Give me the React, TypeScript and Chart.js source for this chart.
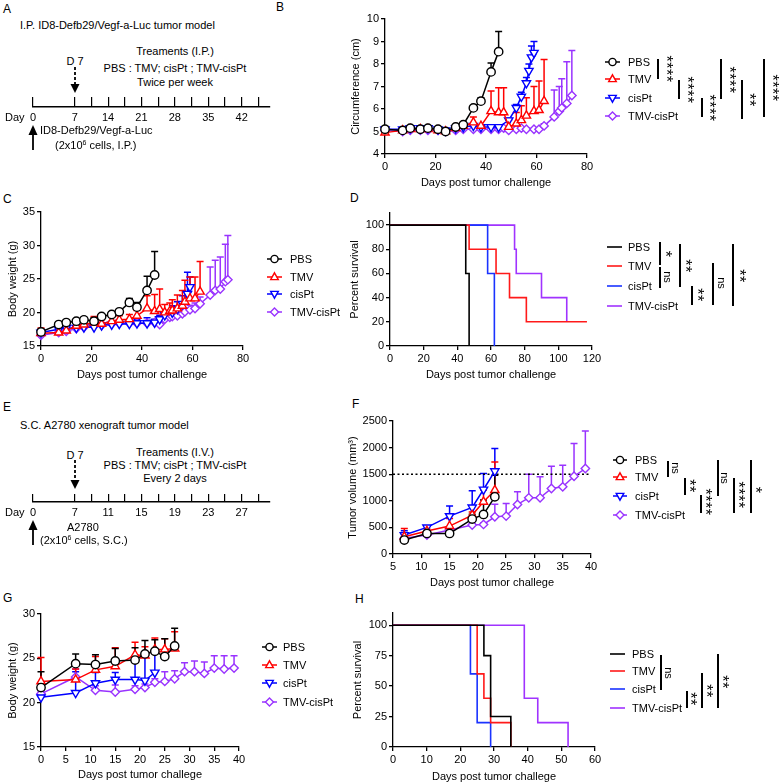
import React, { useEffect, useRef } from 'react';
import { Chart, registerables } from 'chart.js';
Chart.register(...registerables);

const FONT = '"Liberation Sans", Arial, Helvetica, sans-serif';

const GROUPS = ['PBS', 'TMV', 'cisPt', 'TMV-cisPt'];
const COLORS = ['#000000', '#ff0000', '#0000ff', '#9933ff'];
const SURV_COLORS = ['#000000', '#ff1a1a', '#1a33ff', '#a033ff'];
const POINT_STYLES = ['circle', 'triangle', 'triangle', 'rectRot'];
const POINT_ROTATION = [0, 0, 180, 0];

// ---- Timelines (A, E) ----
const TL_TICK_POS = [0, 2.5, 3.5, 4.5, 5.5, 6.5, 7.5, 8.5, 9.5, 10.5, 11.5, 12.5, 13.5];
const TL_MAX = 14.2;
const TL_A_LABELS = ['0', '7', '', '14', '', '21', '', '28', '', '35', '', '42', ''];
const TL_E_LABELS = ['0', '7', '', '11', '', '15', '', '19', '', '23', '', '27', ''];

// ---- B: circumference ----
const B_PBS_DAYS = [0, 7, 10, 14, 17, 21, 24, 28, 31, 35, 38, 42, 45];
const B_PBS_MEAN = [5.1, 5.05, 5.15, 5.1, 5.15, 5.1, 5.0, 5.2, 5.3, 6.05, 6.35, 7.65, 8.55];
const B_PBS_SD = [0.12, 0.05, 0.05, 0.05, 0.05, 0.05, 0.05, 0.05, 0.05, 0.1, 0.15, 0.4, 0.9];
const B_TMV_DAYS = [0, 7, 10, 14, 17, 21, 24, 28, 31, 35, 38, 42, 45, 47, 49, 52, 54, 56, 59, 61, 63];
const B_TMV_MEAN = [4.95, 5.05, 5.1, 5.1, 5.1, 5.05, 5.0, 5.15, 5.25, 5.4, 5.25, 5.9, 5.85, 5.85, 5.2, 5.35, 5.5, 5.7, 5.9, 5.95, 6.35];
const B_TMV_SD = [0.1, 0.05, 0.05, 0.05, 0.05, 0.1, 0.1, 0.05, 0.05, 0.25, 0.05, 0.9, 1.1, 1.1, 0.3, 0.5, 0.65, 0.8, 1.1, 1.3, 1.85];
const B_CIS_DAYS = [0, 7, 10, 14, 17, 21, 24, 28, 31, 35, 38, 42, 45, 49, 52, 54, 56, 57, 58, 59];
const B_CIS_MEAN = [5.1, 5.1, 5.15, 5.15, 5.15, 5.1, 5.05, 5.15, 5.2, 5.25, 5.2, 5.2, 5.2, 5.5, 6.05, 6.55, 7.15, 7.7, 8.3, 8.5];
const B_CIS_SD = [0.1, 0.05, 0.05, 0.05, 0.05, 0.05, 0.05, 0.05, 0.05, 0.05, 0.05, 0.05, 0.05, 0.1, 0.15, 0.2, 0.25, 0.3, 0.5, 0.5];
const B_COMBO_DAYS = [0, 7, 10, 14, 17, 21, 24, 28, 31, 35, 38, 42, 45, 47, 49, 52, 54, 56, 59, 61, 63, 67, 69, 70, 72, 74];
const B_COMBO_MEAN = [5.05, 5.0, 5.05, 5.05, 5.05, 5.05, 5.0, 5.05, 5.1, 5.1, 5.1, 5.1, 5.1, 5.15, 5.05, 5.1, 5.15, 5.1, 5.1, 5.1, 5.25, 5.65, 5.9, 6.05, 6.25, 6.6];
const B_COMBO_SD = [0.05, 0.05, 0.05, 0.05, 0.05, 0.05, 0.05, 0.05, 0.05, 0.05, 0.05, 0.05, 0.05, 0.05, 0.05, 0.05, 0.05, 0.05, 0.05, 0.05, 0.1, 1.2, 1.1, 1.3, 1.85, 2.0];

// ---- C: body weight (ID8) ----
const C_PBS_DAYS = [0, 7, 10, 14, 17, 21, 24, 28, 31, 35, 38, 42, 45];
const C_PBS_MEAN = [17.1, 18.2, 18.5, 18.7, 18.9, 18.7, 19.4, 19.7, 20.1, 21.5, 20.8, 23.3, 25.6];
const C_PBS_SD = [0.4, 0.4, 0.3, 0.3, 0.4, 0.5, 0.3, 0.4, 0.3, 0.6, 0.7, 2.1, 3.5];
const C_TMV_DAYS = [0, 7, 10, 14, 17, 21, 24, 28, 31, 35, 38, 42, 45, 47, 49, 51, 52, 54, 56, 57, 59, 61, 63];
const C_TMV_MEAN = [16.9, 17.0, 17.3, 18.0, 18.2, 18.5, 18.3, 18.7, 18.9, 19.0, 19.5, 20.6, 20.2, 20.5, 20.0, 20.2, 20.3, 20.6, 21.0, 21.6, 22.1, 22.1, 23.1];
const C_TMV_SD = [0.8, 0.5, 0.5, 0.5, 0.6, 0.9, 0.6, 0.7, 0.6, 0.7, 0.8, 1.9, 2.5, 3.0, 1.2, 1.2, 1.6, 2.0, 2.3, 3.2, 3.2, 3.2, 4.5];
const C_CIS_DAYS = [0, 7, 10, 14, 17, 21, 24, 28, 31, 35, 38, 42, 45, 47, 49, 52, 54, 56, 58, 59];
const C_CIS_MEAN = [17.0, 17.5, 17.7, 17.7, 17.8, 17.8, 18.1, 18.2, 18.3, 18.3, 18.4, 18.4, 18.5, 19.0, 19.6, 20.0, 20.5, 21.3, 22.8, 23.8];
const C_CIS_SD = [0.4, 0.3, 0.3, 0.3, 0.3, 0.3, 0.3, 0.3, 0.6, 0.5, 0.5, 0.8, 0.5, 0.6, 0.7, 1.0, 1.1, 1.2, 3.2, 1.5];
const C_COMBO_DAYS = [0, 7, 10, 14, 17, 21, 24, 28, 31, 35, 38, 42, 45, 47, 49, 51, 52, 54, 56, 57, 59, 61, 63, 67, 69, 71, 73, 74];
const C_COMBO_MEAN = [16.6, 17.0, 17.2, 17.6, 17.8, 18.0, 18.1, 18.3, 18.4, 18.4, 18.4, 18.4, 18.5, 18.2, 19.0, 19.3, 19.4, 19.5, 19.8, 20.1, 20.4, 20.6, 21.3, 22.6, 23.3, 23.5, 24.6, 24.9];
const C_COMBO_SD = [0.4, 0.4, 0.4, 0.4, 0.4, 0.4, 0.4, 0.4, 0.4, 0.4, 0.4, 0.4, 0.4, 0.4, 0.5, 0.5, 0.5, 0.5, 0.6, 0.6, 0.7, 0.8, 1.0, 4.2, 4.5, 4.8, 5.6, 6.6];

// ---- D: survival (ID8) ----
const D_PBS_T = [0, 45, 47];
const D_PBS_S = [100, 60, 0];
const D_TMV_T = [0, 47, 63, 71, 81, 117];
const D_TMV_S = [100, 80, 60, 40, 20, 20];
const D_CIS_T = [0, 58, 62];
const D_CIS_S = [100, 60, 0];
const D_COMBO_T = [0, 74, 75, 90, 105];
const D_COMBO_S = [100, 80, 60, 40, 20];

// ---- F: tumor volume (A2780) ----
const F_DAYS = [7, 11, 15, 19, 21, 23];
const F_PBS_MEAN = [262, 387, 387, 656, 744, 1075];
const F_PBS_SD = [30, 40, 30, 90, 270, 406];
const F_TMV_MEAN = [325, 431, 525, 731, 981, 1200];
const F_TMV_SD = [156, 40, 144, 60, 220, 531];
const F_CIS_MEAN = [356, 500, 712, 875, 1212, 1556];
const F_CIS_SD = [80, 25, 188, 312, 300, 425];
const F_COMBO_DAYS = [7, 11, 15, 19, 21, 23, 25, 27, 29, 31, 33, 35, 37, 39];
const F_COMBO_MEAN = [294, 356, 450, 544, 556, 700, 712, 931, 1056, 1056, 1231, 1262, 1462, 1606];
const F_COMBO_SD = [30, 25, 30, 25, 25, 237, 238, 238, 444, 394, 419, 407, 613, 706];
const F_THRESHOLD = 1500;

// ---- G: body weight (A2780) ----
const G_DAYS = [0, 7, 11, 15, 19, 21, 23, 25, 27];
const G_PBS_MEAN = [21.7, 24.4, 24.3, 24.7, 24.8, 25.5, 25.8, 25.2, 26.4];
const G_PBS_SD = [1.8, 1.1, 1.1, 1.4, 1.4, 1.5, 1.3, 2.0, 2.0];
const G_TMV_MEAN = [22.4, 22.6, 23.7, 24.1, 25.4, 25.3, 26.0, 26.0, 26.1];
const G_TMV_SD = [2.7, 1.2, 1.5, 2.1, 1.4, 1.0, 1.3, 1.2, 1.9];
const G_CIS_DAYS = [0, 7, 11, 15, 19, 21, 23];
const G_CIS_MEAN = [20.6, 21.1, 22.2, 22.6, 22.6, 22.5, 23.4];
const G_CIS_SD = [0.4, 2.4, 1.2, 0.8, 2.6, 3.0, 2.5];
const G_COMBO_DAYS = [0, 7, 11, 15, 19, 21, 23, 25, 27, 29, 31, 33, 35, 37, 39];
const G_COMBO_MEAN = [21.0, 22.9, 21.4, 21.2, 21.5, 21.7, 22.3, 22.4, 22.7, 23.5, 23.5, 23.3, 23.9, 23.8, 23.9];
const G_COMBO_SD = [0.3, 0.9, 0.5, 0.8, 0.4, 0.4, 0.4, 1.1, 0.9, 1.0, 1.2, 1.3, 1.4, 1.5, 1.4];

// ---- H: survival (A2780) ----
const H_PBS_T = [0, 27, 29, 35];
const H_PBS_S = [100, 75, 25, 0];
const H_TMV_T = [0, 25, 27, 29, 35];
const H_TMV_S = [100, 60, 40, 20, 0];
const H_CIS_T = [0, 23, 25, 29];
const H_CIS_S = [100, 60, 20, 0];
const H_COMBO_T = [0, 39, 43, 52];
const H_COMBO_S = [100, 40, 20, 0];

// ---------------------------------------------------------------
const Y_W = 50, X_H = 40, PAD_T = 10, PAD_R = 14;
const HALF_LH = 6.6;

const errorBarPlugin = {
  id: 'errbars',
  beforeDatasetsDraw(chart: any) {
    const ctx = chart.ctx;
    const xs = chart.scales.x, ys = chart.scales.y;
    for (let i = chart.data.datasets.length - 1; i >= 0; i--) {
      const ds: any = chart.data.datasets[i];
      const err = ds.errTop;
      if (!err) continue;
      ctx.save();
      ctx.strokeStyle = ds.borderColor;
      ctx.lineWidth = 1.5;
      ds.data.forEach((p: any, j: number) => {
        const e = err[j];
        if (!e) return;
        const px = xs.getPixelForValue(p.x);
        const y0 = ys.getPixelForValue(p.y);
        const y1 = ys.getPixelForValue(p.y + e);
        ctx.beginPath();
        ctx.moveTo(px, y0);
        ctx.lineTo(px, y1);
        ctx.moveTo(px - 3.5, y1);
        ctx.lineTo(px + 3.5, y1);
        ctx.stroke();
      });
      ctx.restore();
    }
  },
};

const thresholdPlugin = {
  id: 'threshold',
  beforeDatasetsDraw(chart: any, _a: any, opts: any) {
    if (opts == null || opts.value == null) return;
    const ctx = chart.ctx;
    const y = chart.scales.y.getPixelForValue(opts.value);
    const { left, right } = chart.chartArea;
    ctx.save();
    ctx.strokeStyle = '#000';
    ctx.lineWidth = 1.5;
    ctx.setLineDash([2, 2.5]);
    ctx.beginPath();
    ctx.moveTo(left, y);
    ctx.lineTo(right, y);
    ctx.stroke();
    ctx.restore();
  },
};

function tickFont(size = 11) {
  return { family: FONT, size };
}

const plainNum = (v: any) => String(v);

function buildScales(o: any) {
  const grid = { display: true, drawOnChartArea: false, drawTicks: true, tickLength: 4, color: '#000', lineWidth: 1.3 };
  const border = { display: true, color: '#000', width: 1.3 };
  return {
    x: {
      type: 'linear', min: o.xMin, max: o.xMax,
      ticks: { stepSize: o.xStep, font: tickFont(), color: '#000', padding: 2, maxRotation: 0, autoSkip: false, callback: plainNum },
      grid, border,
      title: { display: true, text: o.xTitle, color: '#000', font: tickFont(), padding: { top: 0, bottom: X_H - o.xGap - HALF_LH } },
      afterFit: (s: any) => { s.height = X_H; },
    },
    y: {
      type: 'linear', min: o.yMin, max: o.yMax,
      ticks: { stepSize: o.yStep, font: tickFont(), color: '#000', padding: 2, autoSkip: false, callback: plainNum },
      afterBuildTicks: o.yTickMax != null ? (s: any) => { s.ticks = s.ticks.filter((t: any) => t.value <= o.yTickMax); } : undefined,
      grid, border,
      title: { display: true, text: o.yTitle, color: '#000', font: tickFont(), padding: { top: Y_W - o.yGap - HALF_LH, bottom: 0 } },
      afterFit: (s: any) => { s.width = Y_W; },
    },
  };
}

function seriesDataset(days: number[], mean: number[], sd: number[], k: number) {
  return {
    data: days.map((d, i) => ({ x: d, y: mean[i] })),
    errTop: sd,
    borderColor: COLORS[k],
    backgroundColor: '#fff',
    borderWidth: 1.5,
    pointStyle: POINT_STYLES[k],
    pointRotation: POINT_ROTATION[k],
    pointRadius: k === 1 || k === 2 ? 4.8 : 4.2,
    pointBorderWidth: 1.4,
    pointBackgroundColor: '#fff',
    pointBorderColor: COLORS[k],
    clip: false,
    tension: 0,
  };
}

function survDataset(t: number[], s: number[], k: number) {
  return {
    data: t.map((d, i) => ({ x: d, y: s[i] })),
    stepped: true,
    borderColor: SURV_COLORS[k],
    borderWidth: 1.6,
    pointRadius: 0,
    fill: false,
    clip: false,
  };
}

function plotConfig(o: any, datasets: any[], extraPlugins: any[] = [], pluginOpts: any = {}) {
  return {
    type: 'line',
    data: { datasets },
    plugins: [errorBarPlugin, ...extraPlugins],
    options: {
      animation: false,
      responsive: false,
      devicePixelRatio: 1,
      events: [],
      layout: { padding: { left: 0, top: PAD_T, right: PAD_R, bottom: 0 } },
      plugins: { legend: { display: false }, tooltip: { enabled: false }, ...pluginOpts },
      scales: buildScales(o),
    },
  };
}

function timelineConfig(labels: string[]) {
  return {
    type: 'scatter',
    data: { datasets: [] },
    options: {
      animation: false,
      responsive: false,
      devicePixelRatio: 1,
      events: [],
      layout: { padding: { left: 33, right: 5, top: 7, bottom: 0 } },
      plugins: { legend: { display: false }, tooltip: { enabled: false } },
      scales: {
        x: {
          type: 'linear', min: 0, max: TL_MAX,
          afterBuildTicks: (s: any) => { s.ticks = TL_TICK_POS.map((v) => ({ value: v })); },
          afterFit: (s: any) => { s.height = 23; },
          ticks: { autoSkip: false, maxRotation: 0, padding: 4, color: '#000', font: tickFont(11), callback: (_v: any, i: number) => labels[i] },
          grid: { display: true, drawOnChartArea: true, drawTicks: false, color: '#000', lineWidth: 1.2 },
          border: { display: true, color: '#000', width: 1.5 },
        },
        y: { display: false, min: 0, max: 1 },
      },
    },
  };
}

function ChartCanvas({ left, top, width, height, make }: any) {
  const ref = useRef<HTMLCanvasElement | null>(null);
  useEffect(() => {
    const chart = new Chart(ref.current as any, make());
    return () => chart.destroy();
  }, []);
  return <canvas ref={ref} width={width} height={height} style={{ position: 'absolute', left, top, width, height }} />;
}

function PlotCanvas({ box, make }: any) {
  const [L, T, R, B] = box;
  return <ChartCanvas left={L - Y_W} top={T - PAD_T} width={R - L + Y_W + PAD_R} height={B - T + PAD_T + X_H} make={make} />;
}

function Txt({ x, y, children, align = 'left', size = 11, style = {} }: any) {
  const tx = align === 'center' ? '-50%' : align === 'right' ? '-100%' : '0';
  return (
    <div style={{ position: 'absolute', left: x, top: y, transform: `translate(${tx},-50%)`, fontSize: size, lineHeight: 1.15, whiteSpace: 'nowrap', ...style }}>
      {children}
    </div>
  );
}

function MarkerSvg({ k, w, survival }: any) {
  const c = survival ? SURV_COLORS[k] : COLORS[k];
  const cx = w / 2, cy = 6;
  let shape: any = null;
  if (!survival) {
    if (k === 0) shape = <circle cx={cx} cy={cy} r={3.6} fill="#fff" stroke={c} strokeWidth={1.4} />;
    if (k === 1) shape = <polygon points={`${cx},${cy - 4.2} ${cx + 3.8},${cy + 2.6} ${cx - 3.8},${cy + 2.6}`} fill="#fff" stroke={c} strokeWidth={1.4} />;
    if (k === 2) shape = <polygon points={`${cx},${cy + 4.2} ${cx + 3.8},${cy - 2.6} ${cx - 3.8},${cy - 2.6}`} fill="#fff" stroke={c} strokeWidth={1.4} />;
    if (k === 3) shape = <polygon points={`${cx},${cy - 4} ${cx + 4},${cy} ${cx},${cy + 4} ${cx - 4},${cy}`} fill="#fff" stroke={c} strokeWidth={1.4} />;
  }
  return (
    <svg width={w} height={12} style={{ display: 'block' }}>
      <line x1={0} y1={cy} x2={w} y2={cy} stroke={c} strokeWidth={survival ? 1.6 : 1.5} />
      {shape}
    </svg>
  );
}

function Legend({ mx, mw, tx, rows, survival = false }: any) {
  return (
    <>
      {GROUPS.map((g, k) => (
        <React.Fragment key={g}>
          <div style={{ position: 'absolute', left: mx, top: rows[k] - 6 }}>
            <MarkerSvg k={k} w={mw} survival={survival} />
          </div>
          <Txt x={tx} y={rows[k]}>{g}</Txt>
        </React.Fragment>
      ))}
    </>
  );
}

function Sig({ x, y1, y2, label, lx, ly }: any) {
  const stars = label.indexOf('*') >= 0;
  return (
    <>
      <div style={{ position: 'absolute', left: x - 0.75, top: y1, width: 1.6, height: y2 - y1, background: '#000' }} />
      <div
        style={{
          position: 'absolute', left: stars ? lx - 3 : lx, top: ly,
          transform: 'translate(-50%,-50%) rotate(90deg)',
          fontSize: stars ? 16 : 11, letterSpacing: stars ? 0.5 : 0, lineHeight: 1,
          whiteSpace: 'nowrap',
        }}
      >
        {label}
      </div>
    </>
  );
}

const SIG_B = [
  { x: 658, y1: 59, y2: 79, label: '****', lx: 669, ly: 69 },
  { x: 679, y1: 80, y2: 99, label: '****', lx: 690, ly: 90 },
  { x: 702, y1: 98, y2: 117, label: '****', lx: 712, ly: 108 },
  { x: 721, y1: 59, y2: 99, label: '****', lx: 732, ly: 80 },
  { x: 742, y1: 80, y2: 119, label: '**', lx: 752, ly: 100 },
  { x: 764, y1: 59, y2: 117, label: '****', lx: 775, ly: 88 },
];
const SIG_D = [
  { x: 660, y1: 242, y2: 265, label: '*', lx: 668, ly: 254 },
  { x: 660, y1: 267, y2: 288, label: 'ns', lx: 667, ly: 277 },
  { x: 680, y1: 244, y2: 287, label: '**', lx: 688, ly: 266 },
  { x: 692, y1: 286, y2: 305, label: '**', lx: 700, ly: 295 },
  { x: 713, y1: 263, y2: 305, label: 'ns', lx: 721, ly: 283 },
  { x: 733, y1: 244, y2: 306, label: '**', lx: 742, ly: 276 },
];
const SIG_F = [
  { x: 668, y1: 461, y2: 477, label: 'ns', lx: 675, ly: 468 },
  { x: 685, y1: 478, y2: 495, label: '**', lx: 692, ly: 486 },
  { x: 701, y1: 495, y2: 513, label: '****', lx: 708, ly: 502 },
  { x: 718, y1: 460, y2: 496, label: 'ns', lx: 724, ly: 478 },
  { x: 734, y1: 478, y2: 513, label: '****', lx: 741, ly: 495 },
  { x: 751, y1: 460, y2: 513, label: '*', lx: 758, ly: 490 },
];
const SIG_H = [
  { x: 661, y1: 655, y2: 690, label: 'ns', lx: 668, ly: 673 },
  { x: 687, y1: 691, y2: 708, label: '**', lx: 693, ly: 699 },
  { x: 702, y1: 673, y2: 708, label: '**', lx: 709, ly: 691 },
  { x: 718, y1: 654, y2: 708, label: '**', lx: 725, ly: 682 },
];

const BOX_B = [385, 19, 587, 154];
const BOX_C = [41, 212, 243, 346];
const BOX_D = [390, 213, 592, 346];
const BOX_F = [393, 421, 591, 554];
const BOX_G = [41, 614, 239, 747];
const BOX_H = [393, 613, 595, 747];

const makeB = () => plotConfig(
  { xMin: 0, xMax: 80, xStep: 20, yMin: 4, yMax: 10, yStep: 1, xTitle: 'Days post tumor challenge', yTitle: 'Circumference (cm)', xGap: 29, yGap: 29 },
  [
    seriesDataset(B_PBS_DAYS, B_PBS_MEAN, B_PBS_SD, 0),
    seriesDataset(B_TMV_DAYS, B_TMV_MEAN, B_TMV_SD, 1),
    seriesDataset(B_CIS_DAYS, B_CIS_MEAN, B_CIS_SD, 2),
    seriesDataset(B_COMBO_DAYS, B_COMBO_MEAN, B_COMBO_SD, 3),
  ],
);

const makeC = () => plotConfig(
  { xMin: 0, xMax: 80, xStep: 20, yMin: 15, yMax: 35, yStep: 5, xTitle: 'Days post tumor challenge', yTitle: 'Body weight (g)', xGap: 29, yGap: 28 },
  [
    seriesDataset(C_PBS_DAYS, C_PBS_MEAN, C_PBS_SD, 0),
    seriesDataset(C_TMV_DAYS, C_TMV_MEAN, C_TMV_SD, 1),
    seriesDataset(C_CIS_DAYS, C_CIS_MEAN, C_CIS_SD, 2),
    seriesDataset(C_COMBO_DAYS, C_COMBO_MEAN, C_COMBO_SD, 3),
  ],
);

const makeD = () => plotConfig(
  { xMin: 0, xMax: 120, xStep: 20, yMin: 0, yMax: 110, yStep: 20, yTickMax: 100, xTitle: 'Days post tumor challenge', yTitle: 'Percent survival', xGap: 29, yGap: 35 },
  [
    survDataset(D_PBS_T, D_PBS_S, 0),
    survDataset(D_TMV_T, D_TMV_S, 1),
    survDataset(D_CIS_T, D_CIS_S, 2),
    survDataset(D_COMBO_T, D_COMBO_S, 3),
  ],
);

const makeF = () => plotConfig(
  { xMin: 5, xMax: 40, xStep: 5, yMin: 0, yMax: 2500, yStep: 500, xTitle: 'Days post tumor challege', yTitle: 'Tumor volume (mm³)', xGap: 29, yGap: 40 },
  [
    seriesDataset(F_DAYS, F_PBS_MEAN, F_PBS_SD, 0),
    seriesDataset(F_DAYS, F_TMV_MEAN, F_TMV_SD, 1),
    seriesDataset(F_DAYS, F_CIS_MEAN, F_CIS_SD, 2),
    seriesDataset(F_COMBO_DAYS, F_COMBO_MEAN, F_COMBO_SD, 3),
  ],
  [thresholdPlugin],
  { threshold: { value: F_THRESHOLD } },
);

const makeG = () => plotConfig(
  { xMin: 0, xMax: 40, xStep: 5, yMin: 15, yMax: 30, yStep: 5, xTitle: 'Days post tumor challege', yTitle: 'Body weight (g)', xGap: 28, yGap: 28 },
  [
    seriesDataset(G_DAYS, G_PBS_MEAN, G_PBS_SD, 0),
    seriesDataset(G_DAYS, G_TMV_MEAN, G_TMV_SD, 1),
    seriesDataset(G_CIS_DAYS, G_CIS_MEAN, G_CIS_SD, 2),
    seriesDataset(G_COMBO_DAYS, G_COMBO_MEAN, G_COMBO_SD, 3),
  ],
);

const makeH = () => plotConfig(
  { xMin: 0, xMax: 60, xStep: 10, yMin: 0, yMax: 110, yStep: 25, yTickMax: 100, xTitle: 'Days post tumor challege', yTitle: 'Percent survival', xGap: 30, yGap: 35 },
  [
    survDataset(H_PBS_T, H_PBS_S, 0),
    survDataset(H_TMV_T, H_TMV_S, 1),
    survDataset(H_CIS_T, H_CIS_S, 2),
    survDataset(H_COMBO_T, H_COMBO_S, 3),
  ],
);

const sup6 = <span style={{ fontSize: 7, verticalAlign: '4px' }}>6</span>;

export default function App() {
  const TS = 11;
  return (
    <div style={{ position: 'absolute', left: 0, top: 0, width: 781, height: 784, overflow: 'hidden', background: '#fff', fontFamily: FONT, color: '#000' }}>
      {/* Panel letters */}
      <Txt x={3} y={10} size={12}>A</Txt>
      <Txt x={276} y={8} size={12}>B</Txt>
      <Txt x={3} y={200} size={12}>C</Txt>
      <Txt x={350} y={199} size={12}>D</Txt>
      <Txt x={3} y={408} size={12}>E</Txt>
      <Txt x={352} y={405} size={12}>F</Txt>
      <Txt x={3} y={599} size={12}>G</Txt>
      <Txt x={355} y={600} size={12}>H</Txt>

      {/* Timeline A */}
      <ChartCanvas left={0} top={90} width={275} height={40} make={() => timelineConfig(TL_A_LABELS)} />
      <Txt x={20} y={25} size={TS}>I.P. ID8-Defb29/Vegf-a-Luc tumor model</Txt>
      <Txt x={75} y={61} size={TS} align="center">D 7</Txt>
      <Txt x={175} y={51} size={TS} align="center">Treaments (I.P.)</Txt>
      <Txt x={175} y={68} size={TS} align="center">PBS : TMV; cisPt ; TMV-cisPt</Txt>
      <Txt x={175} y={82} size={TS} align="center">Twice per week</Txt>
      <Txt x={5} y={117} size={TS}>Day</Txt>
      <Txt x={40} y={130} size={TS}>ID8-Defb29/Vegf-a-Luc</Txt>
      <Txt x={55} y={145} size={TS}>(2x10{sup6} cells, I.P.)</Txt>

      {/* Timeline E */}
      <ChartCanvas left={0} top={487} width={275} height={38} make={() => timelineConfig(TL_E_LABELS)} />
      <Txt x={20} y={425} size={TS}>S.C. A2780 xenograft tumor model</Txt>
      <Txt x={75} y={455} size={TS} align="center">D 7</Txt>
      <Txt x={175} y={452} size={TS} align="center">Treaments (I.V.)</Txt>
      <Txt x={175} y={465} size={TS} align="center">PBS : TMV; cisPt ; TMV-cisPt</Txt>
      <Txt x={175} y={478} size={TS} align="center">Every 2 days</Txt>
      <Txt x={5} y={512} size={TS}>Day</Txt>
      <Txt x={67} y={527} size={TS}>A2780</Txt>
      <Txt x={40} y={540} size={TS}>(2x10{sup6} cells, S.C.)</Txt>

      <svg width={781} height={784} style={{ position: 'absolute', left: 0, top: 0, pointerEvents: 'none' }}>
        {/* A arrows */}
        <line x1={75} y1={67} x2={75} y2={85} stroke="#000" strokeWidth={1.8} strokeDasharray="3 2" />
        <polygon points="70.5,84 79.5,84 75,93" fill="#000" />
        <line x1={33} y1={150} x2={33} y2={133} stroke="#000" strokeWidth={1.8} />
        <polygon points="28.5,135 37.5,135 33,125" fill="#000" />
        {/* E arrows */}
        <line x1={75} y1={460} x2={75} y2={481} stroke="#000" strokeWidth={1.8} strokeDasharray="3 2" />
        <polygon points="70.5,480 79.5,480 75,489" fill="#000" />
        <line x1={33} y1={545} x2={33} y2={528} stroke="#000" strokeWidth={1.8} />
        <polygon points="28.5,530 37.5,530 33,520" fill="#000" />
      </svg>

      {/* Charts */}
      <PlotCanvas box={BOX_B} make={makeB} />
      <PlotCanvas box={BOX_C} make={makeC} />
      <PlotCanvas box={BOX_D} make={makeD} />
      <PlotCanvas box={BOX_F} make={makeF} />
      <PlotCanvas box={BOX_G} make={makeG} />
      <PlotCanvas box={BOX_H} make={makeH} />

      {/* Legends */}
      <Legend mx={605} mw={15} tx={628} rows={[62, 79, 98, 116]} />
      <Legend mx={267} mw={15} tx={290} rows={[259, 277, 294, 312]} />
      <Legend mx={607} mw={15} tx={628} rows={[247, 266, 286, 306]} survival />
      <Legend mx={613} mw={14} tx={635} rows={[460, 477, 496, 515]} />
      <Legend mx={262} mw={15} tx={283} rows={[647, 665, 683, 702]} />
      <Legend mx={610} mw={15} tx={632} rows={[654, 671, 689, 708]} survival />

      {/* Significance */}
      {SIG_B.map((s, i) => <Sig key={'b' + i} {...s} />)}
      {SIG_D.map((s, i) => <Sig key={'d' + i} {...s} />)}
      {SIG_F.map((s, i) => <Sig key={'f' + i} {...s} />)}
      {SIG_H.map((s, i) => <Sig key={'h' + i} {...s} />)}
    </div>
  );
}
